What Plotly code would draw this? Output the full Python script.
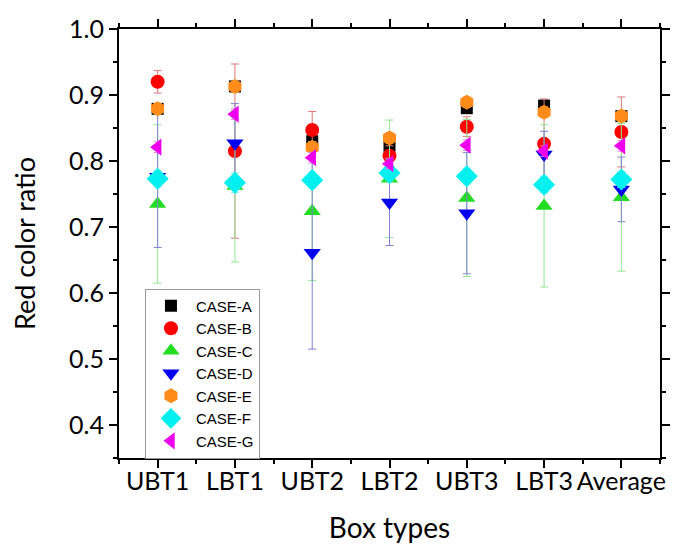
import plotly.graph_objects as go

categories = ["UBT1", "LBT1", "UBT2", "LBT2", "UBT3", "LBT3", "Average"]

case_a = [0.879, 0.913, 0.830, 0.823, 0.880, 0.884, 0.868]
case_b = [0.920, 0.815, 0.847, 0.808, 0.852, 0.826, 0.844]
case_c = [0.735, 0.762, 0.724, 0.773, 0.744, 0.732, 0.745]
case_d = [0.776, 0.827, 0.661, 0.737, 0.721, 0.810, 0.757]
case_e = [0.879, 0.913, 0.821, 0.835, 0.889, 0.874, 0.868]
case_f = [0.773, 0.767, 0.771, 0.782, 0.777, 0.764, 0.772]
case_g = [0.821, 0.871, 0.805, 0.796, 0.824, 0.815, 0.823]

err_a = [0.008, 0.008, 0.008, 0.008, 0.008, 0.008, 0.008]
err_b = [0.017, 0.132, 0.028, 0.015, 0.015, 0.068, 0.053]
err_c = [0.120, 0.115, 0.105, 0.089, 0.119, 0.123, 0.112]
err_d = [0.107, 0.060, 0.146, 0.065, 0.092, 0.035, 0.049]
err_e = [0.008, 0.008, 0.008, 0.008, 0.008, 0.008, 0.008]
err_f = [0.012, 0.015, 0.012, 0.012, 0.012, 0.012, 0.012]
err_g = [0.008, 0.008, 0.008, 0.008, 0.008, 0.008, 0.008]

y_major = [0.4, 0.5, 0.6, 0.7, 0.8, 0.9, 1.0]
y_major_labels = ["0.4", "0.5", "0.6", "0.7", "0.8", "0.9", "1.0"]

series = [
    ("CASE-A", case_a, err_a, "square", "#000000", "#555555", 12),
    ("CASE-B", case_b, err_b, "circle", "#ff0000", "#e07878", 14),
    ("CASE-C", case_c, err_c, "triangle-up", "#22dd22", "#90e890", 15),
    ("CASE-D", case_d, err_d, "triangle-down", "#0000ee", "#8080d8", 15),
    ("CASE-E", case_e, err_e, "hexagon", "#ff8c1a", "#f0b070", 15),
    ("CASE-F", case_f, err_f, "diamond", "#00f0f0", "#80e8f0", 17),
    ("CASE-G", case_g, err_g, "triangle-left", "#ee00ee", "#e880e8", 15),
]

xs = list(range(len(categories)))

fig = go.Figure()
for name, vals, errs, sym, col, ecol, size in series:
    fig.add_trace(go.Scatter(
        x=xs, y=vals, name=name, mode="markers",
        marker=dict(symbol=sym, color=col, size=size, line=dict(width=0)),
        error_y=dict(type="data", array=errs, visible=True, color=ecol,
                     thickness=1, width=4),
    ))

xr = [-0.5, len(categories) - 0.5]
yr = [0.35, 1.0]
font = "Lato, Carlito, sans-serif"

fig.update_layout(
    width=681, height=537,
    margin=dict(l=111, r=29, t=21, b=87),
    paper_bgcolor="white", plot_bgcolor="white",
    showlegend=True,
    legend=dict(
        x=0.048, y=0.395, xanchor="left", yanchor="top",
        bgcolor="white", bordercolor="#999999", borderwidth=1,
        font=dict(family="Liberation Sans, Arial, sans-serif", size=15, color="black"),
        tracegroupgap=0, itemwidth=40,
    ),
    xaxis=dict(
        range=xr, tickmode="array", tickvals=xs, ticktext=categories,
        showline=True, mirror="ticks", linecolor="black", linewidth=2,
        ticks="outside", ticklen=8, tickwidth=2, tickcolor="black",
        minor=dict(tickmode="linear", tick0=-0.5, dtick=1, ticks="outside",
                   ticklen=4, tickwidth=2, tickcolor="black"),
        showgrid=False, zeroline=False, automargin=False,
        ticklabelstandoff=-8,
        tickfont=dict(family=font, size=25, color="black"),
        title=dict(text="Box types", font=dict(family=font, size=28, color="black"), standoff=24),
    ),
    yaxis=dict(
        range=yr, tickmode="array", tickvals=y_major, ticktext=y_major_labels,
        showline=True, mirror="ticks", linecolor="black", linewidth=2,
        ticks="outside", ticklen=8, tickwidth=2, tickcolor="black",
        minor=dict(tickmode="linear", tick0=0.35, dtick=0.1,
                   ticks="outside", ticklen=4, tickwidth=2, tickcolor="black"),
        showgrid=False, zeroline=False, automargin=False,
        tickfont=dict(family=font, size=25, color="black"),
        title=dict(text="Red color ratio", font=dict(family=font, size=27, color="black"), standoff=27),
    ),
)

fig.write_html("out.html")
